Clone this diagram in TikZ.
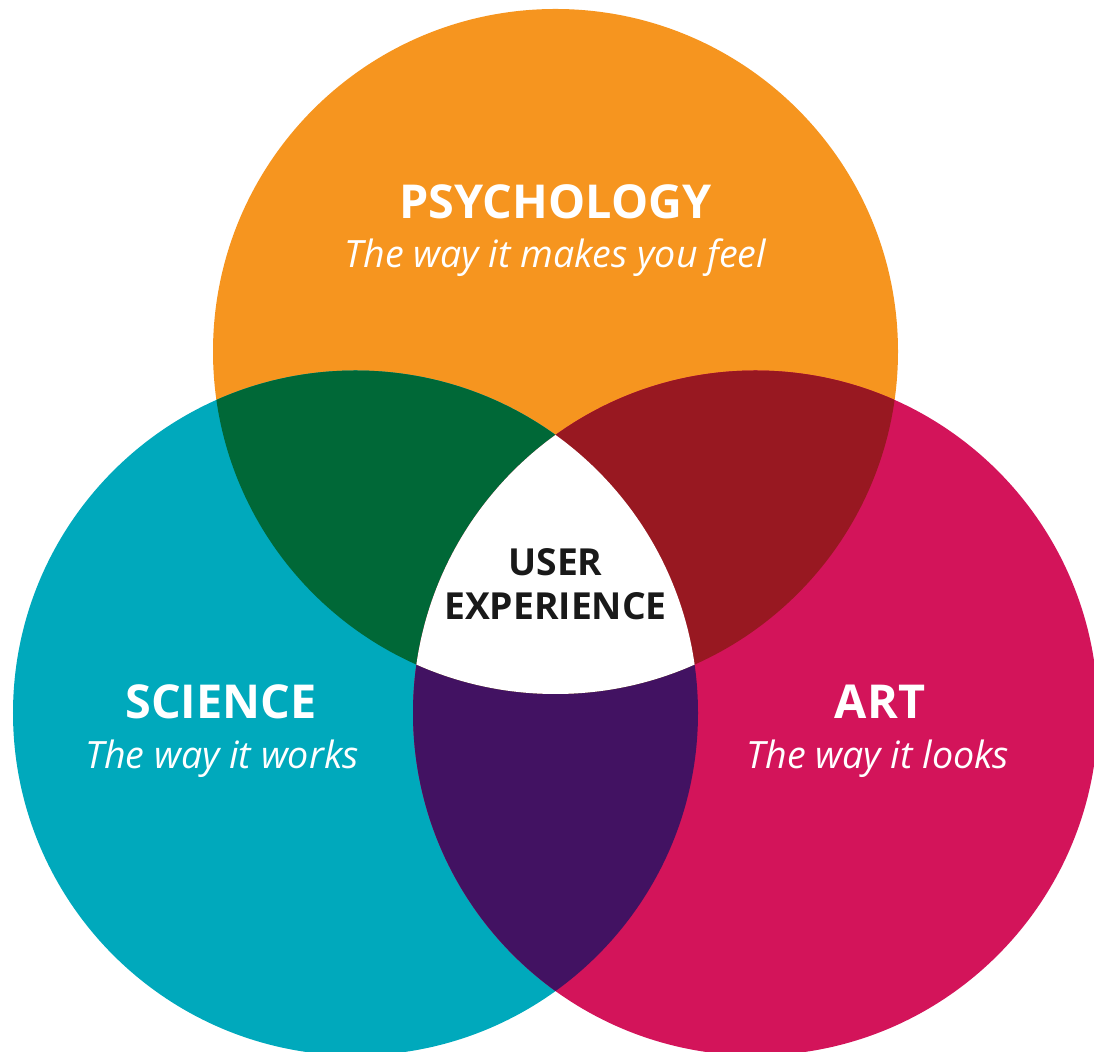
\documentclass[tikz,border=0pt]{standalone}
\usepackage{fontspec}
\setmainfont{Open Sans}
\definecolor{psyorange}{HTML}{F6951F}
\definecolor{sciteal}{HTML}{00A9BC}
\definecolor{artpink}{HTML}{D3145A}
\definecolor{psysci}{HTML}{006837}
\definecolor{psyart}{HTML}{981821}
\definecolor{sciart}{HTML}{421262}
\tikzset{
  headline/.style={text=white, anchor=base, inner sep=0pt, font=\bfseries\fontsize{13.3}{15}\selectfont},
  tagline/.style={text=white, anchor=base, inner sep=0pt, font=\itshape\fontsize{10.7}{13}\selectfont},
  center label/.style={text=black!90, align=center, inner sep=0pt, font=\bfseries\fontsize{10.6}{12.5}\selectfont}
}
\newcommand*{\vrad}{3.425}
\begin{document}
\begin{tikzpicture}
    \useasboundingbox (0,0) rectangle (10.94,-10.52);
    \clip (0,0) rectangle (10.94,-10.52);
    \coordinate (psy) at (5.555,-3.515);
    \coordinate (sci) at (3.555,-7.13);
    \coordinate (art) at (7.555,-7.13);

    % the three circles
    \fill[psyorange] (psy) circle (\vrad);
    \fill[sciteal] (sci) circle (\vrad);
    \fill[artpink] (art) circle (\vrad);

    % overlaps of two circles
    \begin{scope}
        \clip (sci) circle (\vrad);
        \fill[sciart] (art) circle (\vrad);
    \end{scope}
    \begin{scope}
        \clip (psy) circle (\vrad);
        \fill[psysci] (sci) circle (\vrad);
        \fill[psyart] (art) circle (\vrad);
        % overlap of all three
        \clip (sci) circle (\vrad);
        \fill[white] (art) circle (\vrad);
    \end{scope}

    \node[headline] (psytitle) at (5.555,-2.19) {PSYCHOLOGY};
    \node[tagline] (psytext) at (5.555,-2.68) {The way it makes you feel};
    \node[headline] (scititle) at (2.21,-7.19) {SCIENCE};
    \node[tagline] (scitext) at (2.22,-7.69) {The way it works};
    \node[headline] (arttitle) at (8.80,-7.19) {ART};
    \node[tagline] (arttext) at (8.78,-7.69) {The way it looks};
    \node[center label] (ux) at (5.555,-5.84) {USER\\EXPERIENCE};
\end{tikzpicture}
\end{document}
